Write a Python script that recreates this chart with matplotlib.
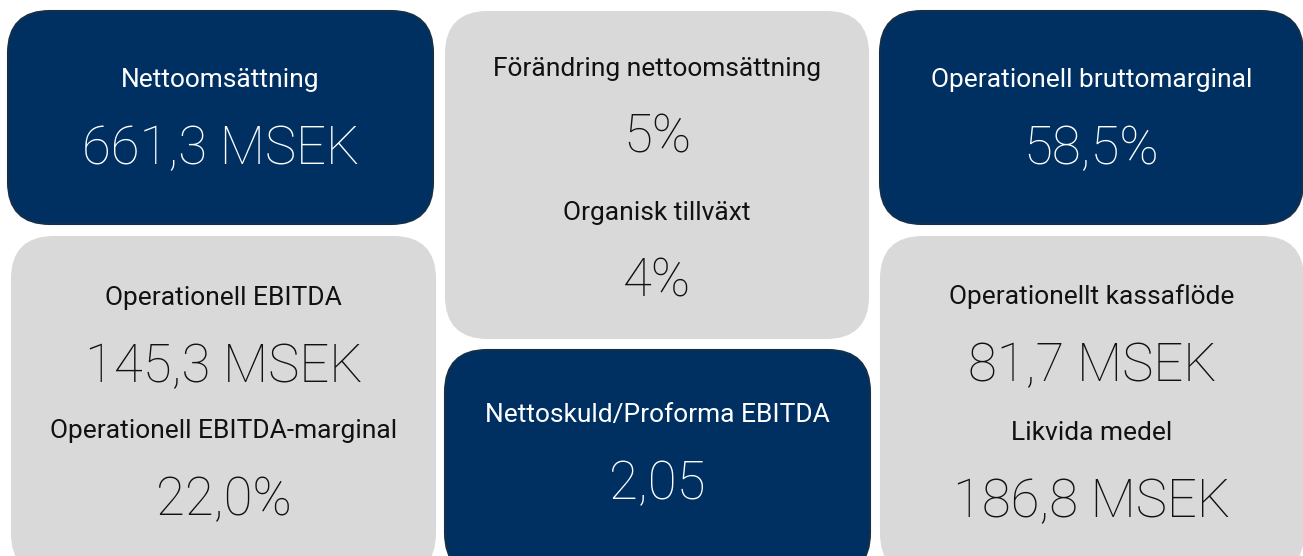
import matplotlib.pyplot as plt
from matplotlib.patches import FancyBboxPatch

# KPI data
titles = [
    ['Nettoomsättning'],
    ['Förändring nettoomsättning', 'Organisk tillväxt'],
    ['Operationell bruttomarginal'],
    ['Operationell EBITDA', 'Operationell EBITDA-marginal'],
    ['Nettoskuld/Proforma EBITDA'],
    ['Operationellt kassaflöde', 'Likvida medel'],
]
values = [
    ['661,3 MSEK'],
    ['5%', '4%'],
    ['58,5%'],
    ['145,3 MSEK', '22,0%'],
    ['2,05'],
    ['81,7 MSEK', '186,8 MSEK'],
]

NAVY = '#003062'
GREY = '#d9d9d9'

# card layout in pixels: x0, y0, x1, y1, dark?, y of title rows
cards = [
    (8, 11, 433, 224, True, [80]),
    (446, 12, 868, 338, False, [69, 213]),
    (880, 11, 1303, 224, True, [80]),
    (12, 237, 435, 575, False, [298, 431]),
    (445, 350, 870, 575, True, [415]),
    (881, 237, 1303, 575, False, [297, 433]),
]

fig = plt.figure(figsize=(13.03, 5.56), dpi=100)
ax = fig.add_axes([0, 0, 1, 1])
ax.set_xlim(0, 1303)
ax.set_ylim(556, 0)
ax.axis('off')

for (x0, y0, x1, y1, dark, ys), tt, vv in zip(cards, titles, values):
    box = FancyBboxPatch((x0, y0), x1 - x0, y1 - y0,
                         boxstyle='round,pad=0,rounding_size=42',
                         facecolor=NAVY if dark else GREY,
                         edgecolor='#13304a' if dark else GREY, lw=1.5)
    ax.add_patch(box)
    cx = (x0 + x1) / 2
    col = 'white' if dark else '#111111'
    for y, t, v in zip(ys, tt, vv):
        ax.text(cx, y, t, ha='center', va='center', color=col,
                fontsize=19, family='Roboto')
        ax.text(cx, y + 69, v, ha='center', va='center', color=col,
                fontsize=38, family='Roboto', fontweight=100)

fig.savefig('out.png', dpi=100)
